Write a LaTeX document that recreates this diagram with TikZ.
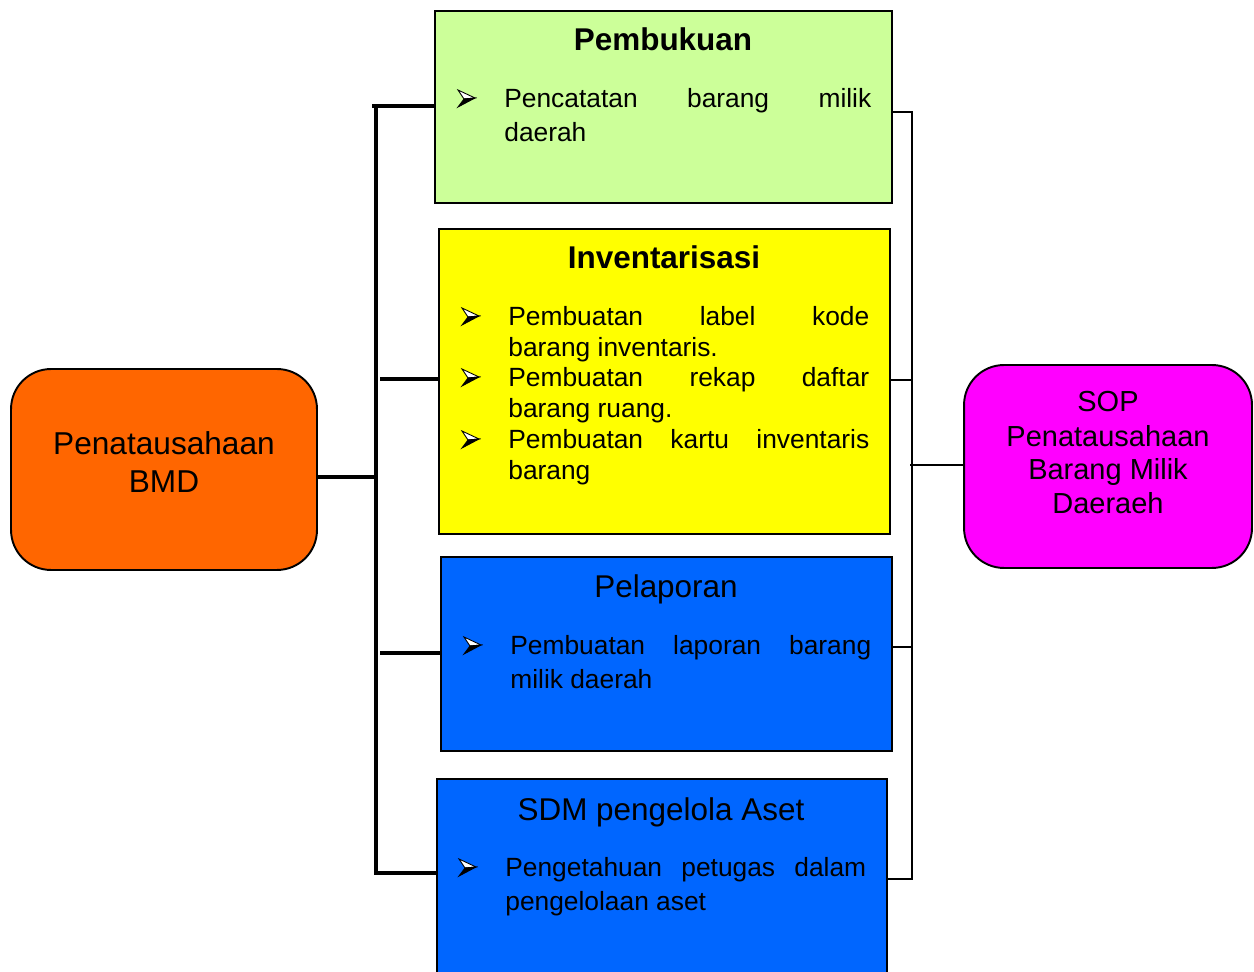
\documentclass[tikz,border=0pt]{standalone}
\usepackage{fontspec}
\setmainfont{Liberation Sans}
\definecolor{cgreen}{HTML}{CCFF99}
\definecolor{cyellow}{HTML}{FFFF00}
\definecolor{cblue}{HTML}{0066FF}
\definecolor{corange}{HTML}{FF6600}
\definecolor{cmagenta}{HTML}{FF00FF}
\begin{document}
\begin{tikzpicture}[x=0.02cm,y=-0.02cm,
  box/.style={draw=black,line width=1.1pt,rectangle,inner sep=0pt},
  rbox/.style={draw=black,line width=1.1pt,rectangle,rounded corners=0.8cm,inner sep=0pt},
  body/.style={inner sep=0pt,anchor=base west,font=\fontsize{15}{18}\selectfont},
  ttl/.style={inner sep=0pt,anchor=base,font=\fontsize{17.9}{21}\selectfont},
  big/.style={inner sep=0pt,anchor=base,font=\fontsize{18}{21}\selectfont},
  sop/.style={inner sep=0pt,anchor=base,font=\fontsize{16.5}{20}\selectfont},
  lwthree/.style={draw=black,line width=1.8pt},
  lwone/.style={draw=black,line width=0.85pt},
  bul/.pic={
    \filldraw[fill=white,draw=black,line width=0.5pt] (9,0) -- (-8,-8) -- (-2,1) -- cycle;
    \filldraw[fill=black,draw=black,line width=0.5pt] (9,0) -- (-2,1) -- (-8,9) -- cycle;
  }]
\useasboundingbox (0,0) rectangle (1254,972);
\clip (0,0) rectangle (1254,972);

% boxes
\node[box,fill=cgreen,minimum width=9.14cm,minimum height=3.84cm] (pb) at (663.5,107) {};
\node[box,fill=cyellow,minimum width=9.02cm,minimum height=6.10cm] (inv) at (664.5,381.5) {};
\node[box,fill=cblue,minimum width=9.02cm,minimum height=3.88cm] (pl) at (666.5,654) {};
\node[box,fill=cblue,minimum width=9.00cm,minimum height=4.12cm] (sdm) at (662,882) {};
\node[rbox,fill=corange,minimum width=6.12cm,minimum height=4.02cm] (bmd) at (164,469.5) {};
\node[rbox,fill=cmagenta,minimum width=5.76cm,minimum height=4.06cm] (sopb) at (1108,466.5) {};

% left connectors
\coordinate (lt) at (376,106);
\coordinate (lb) at (376,873);
\draw[lwthree] (372,106) -- (pb.west |- lt);
\draw[lwthree] (lt) -- (lb) -- (sdm.west |- lb);
\draw[lwthree] (380,379) -- (inv.west |- 0,379);
\draw[lwthree] (380,653) -- (pl.west |- 0,653);
\draw[lwthree] (bmd.east |- 0,477) -- (376,477);

% right connectors
\coordinate (rt) at (912,112);
\coordinate (rb) at (912,879);
\draw[lwone] (pb.east |- rt) -- (rt) -- (rb) -- (sdm.east |- rb);
\draw[lwone] (inv.east |- 0,380) -- (912,380);
\draw[lwone] (pl.east |- 0,647) -- (912,647);
\draw[lwone] (910,465) -- (sopb.west |- 0,465);

% Pembukuan
\node[ttl,font=\fontsize{17.9}{21}\selectfont\bfseries] (pbt) at (663,51) {Pembukuan};
\pic at (466,98) {bul};
\node[body] (pb1) at (504,107.5) {\makebox[7.34cm][s]{Pencatatan barang milik}};
\node[body] (pb2) at (504,141.5) {daerah};

% Inventarisasi
\node[ttl,font=\fontsize{17.9}{21}\selectfont\bfseries] (invt) at (664,269) {Inventarisasi};
\pic at (470,316) {bul};
\node[body] (inv1) at (508,325.5) {\makebox[7.22cm][s]{Pembuatan label kode}};
\node[body] (inv2) at (508,356.5) {barang inventaris.};
\pic at (470,377) {bul};
\node[body] (inv3) at (508,386.5) {\makebox[7.22cm][s]{Pembuatan rekap daftar}};
\node[body] (inv4) at (508,417.5) {barang ruang.};
\pic at (470,439) {bul};
\node[body] (inv5) at (508,448.5) {\makebox[7.22cm][s]{Pembuatan kartu inventaris}};
\node[body] (inv6) at (508,479.5) {barang};

% Pelaporan
\node[ttl] (plt) at (666,598) {Pelaporan};
\pic at (472,645) {bul};
\node[body] (pl1) at (510,654.5) {\makebox[7.22cm][s]{Pembuatan laporan barang}};
\node[body] (pl2) at (510,688.5) {milik daerah};

% SDM
\node[ttl] (sdmt) at (661,820) {SDM pengelola Aset};
\pic at (467,867) {bul};
\node[body] (sdm1) at (505,876.5) {\makebox[7.22cm][s]{Pengetahuan petugas dalam}};
\node[body] (sdm2) at (505,910.5) {pengelolaan aset};

% BMD
\node[big] (bmd1) at (164,455) {Penatausahaan};
\node[big] (bmd2) at (164,493) {BMD};

% SOP
\node[sop] (s1) at (1108,411.4) {SOP};
\node[sop] (s2) at (1108,446.4) {Penatausahaan};
\node[sop] (s3) at (1108,479.4) {Barang Milik};
\node[sop] (s4) at (1108,513.4) {Daeraeh};
\end{tikzpicture}
\end{document}
